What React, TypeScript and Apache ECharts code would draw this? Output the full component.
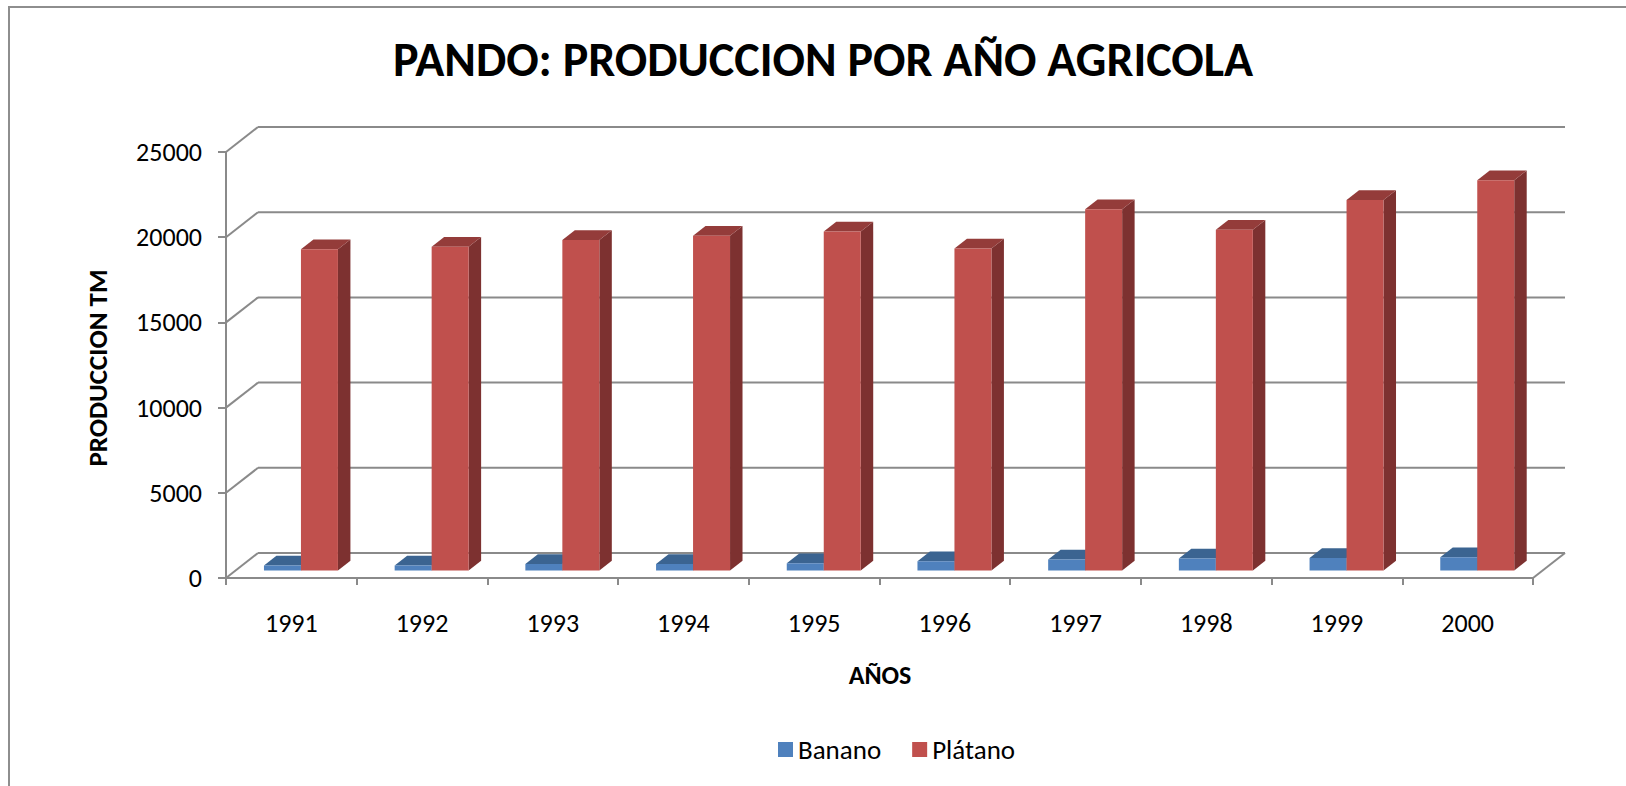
import React, { useEffect, useRef } from "react";
import * as echarts from "echarts";

const YEARS = ["1991", "1992", "1993", "1994", "1995", "1996", "1997", "1998", "1999", "2000"];
const BANANO = [300, 300, 380, 380, 420, 550, 650, 700, 730, 780];
const PLATANO = [18850, 19000, 19400, 19650, 19900, 18900, 21200, 20000, 21750, 22900];
const Y_TICKS = [0, 5000, 10000, 15000, 20000, 25000];
const SERIES_NAMES = ["Banano", "Plátano"];

const FONT = "Carlito, Lato, 'Open Sans', sans-serif";
const GRID_COLOR = "#8a8a8a";
// depth of the floor / walls (pixels)
const DEPTH_X = 32;
const DEPTH_Y = 25;
const FRONT_FRAC = 0.3; // bar front face depth
const BAR_DEPTH_FRAC = 0.39; // bar depth
const BAR_W_FRAC = 0.283;

const COLORS = {
  Banano: { front: "#4F81BD", top: "#3B6491", side: "#2E4E73" },
  Plátano: { front: "#C0504D", top: "#943C3A", side: "#7D3130" },
};

function makeBarRender(which: "Banano" | "Plátano") {
  const col = COLORS[which];
  return (params: any, api: any) => {
    const xi = api.value(0);
    const v = api.value(1);
    const pTop = api.coord([xi, v]);
    const pBot = api.coord([xi, 0]);
    const band = api.size([1, 0])[0];
    const w = band * BAR_W_FRAC;
    const ox = DEPTH_X * FRONT_FRAC;
    const oy = -DEPTH_Y * FRONT_FRAC;
    const bdx = DEPTH_X * BAR_DEPTH_FRAC;
    const bdy = DEPTH_Y * BAR_DEPTH_FRAC;
    const cx = pTop[0] + ox;
    const x0 = which === "Banano" ? cx - w : cx;
    const x1 = which === "Banano" ? cx : cx + w;
    const yT = pTop[1] + oy;
    const yB = pBot[1] + oy;
    return {
      type: "group",
      children: [
        {
          type: "polygon",
          shape: { points: [[x1, yT], [x1 + bdx, yT - bdy], [x1 + bdx, yB - bdy], [x1, yB]] },
          style: { fill: col.side },
        },
        {
          type: "polygon",
          shape: { points: [[x0, yT], [x1, yT], [x1 + bdx, yT - bdy], [x0 + bdx, yT - bdy]] },
          style: { fill: col.top },
        },
        {
          type: "rect",
          shape: { x: x0, y: yT, width: x1 - x0, height: yB - yT },
          style: { fill: col.front },
        },
      ],
    };
  };
}

function wallRender(params: any, api: any) {
  const cs = params.coordSys;
  const v = api.value(0);
  const y = api.coord([0, v])[1];
  const left = cs.x;
  const right = cs.x + cs.width;
  const children: any[] = [
    {
      type: "line",
      shape: { x1: left, y1: y, x2: left + DEPTH_X, y2: y - DEPTH_Y },
      style: { stroke: GRID_COLOR, lineWidth: 2 },
    },
    {
      type: "line",
      shape: { x1: left + DEPTH_X, y1: y - DEPTH_Y, x2: right + DEPTH_X, y2: y - DEPTH_Y },
      style: { stroke: GRID_COLOR, lineWidth: 2 },
    },
  ];
  if (v === 0) {
    children.push({
      type: "line",
      shape: { x1: right, y1: y, x2: right + DEPTH_X, y2: y - DEPTH_Y },
      style: { stroke: GRID_COLOR, lineWidth: 2 },
    });
  }
  return { type: "group", children };
}

export default function App() {
  const ref = useRef<HTMLDivElement>(null);
  useEffect(() => {
    if (!ref.current) return;
    const chart = echarts.init(ref.current, null, { renderer: "svg" });
    chart.setOption({
      animation: false,
      backgroundColor: "#ffffff",
      grid: { left: 226, right: 93, top: 152, bottom: 208, containLabel: false },
      legend: {
        data: SERIES_NAMES.map((n) => ({ name: n, icon: "rect" })),
        left: 773,
        top: 731,
        itemWidth: 15,
        itemHeight: 15,
        itemGap: 31,
        textStyle: { fontFamily: FONT, fontSize: 27, color: "#000" },
      },
      xAxis: {
        type: "category",
        data: YEARS,
        boundaryGap: true,
        axisLine: { show: true, lineStyle: { color: GRID_COLOR, width: 2 } },
        axisTick: { show: true, interval: 0, length: 7, lineStyle: { color: GRID_COLOR, width: 2 } },
        axisLabel: { interval: 0, margin: 32, fontFamily: FONT, fontSize: 26, color: "#000" },
        splitLine: { show: false },
      },
      yAxis: {
        type: "value",
        min: 0,
        max: 25000,
        interval: 5000,
        axisLine: { show: true, lineStyle: { color: GRID_COLOR, width: 2 } },
        axisTick: { show: true, length: 8, lineStyle: { color: GRID_COLOR, width: 2 } },
        axisLabel: {
          margin: 24,
          fontFamily: FONT,
          fontSize: 26,
          color: "#000",
          formatter: (v: number) => String(v),
        },
        splitLine: { show: false },
      },
      graphic: [
        {
          type: "rect",
          shape: { x: 9, y: 7, width: 1700, height: 900 },
          style: { fill: "none", stroke: "#8e8e8e", lineWidth: 2 },
          silent: true,
        },
        {
          type: "text",
          x: 823,
          y: 59,
          style: {
            text: "PANDO: PRODUCCION POR AÑO AGRICOLA",
            fontFamily: FONT,
            fontSize: 48,
            fontWeight: "bold",
            fill: "#000",
            textAlign: "center",
            textVerticalAlign: "middle",
          },
        },
        {
          type: "text",
          x: 97,
          y: 368,
          rotation: Math.PI / 2,
          style: {
            text: "PRODUCCION TM",
            fontFamily: FONT,
            fontSize: 27,
            fontWeight: "bold",
            fill: "#000",
            textAlign: "center",
            textVerticalAlign: "middle",
          },
        },
        {
          type: "text",
          x: 880,
          y: 675,
          style: {
            text: "AÑOS",
            fontFamily: FONT,
            fontSize: 26,
            fontWeight: "bold",
            fill: "#000",
            textAlign: "center",
            textVerticalAlign: "middle",
          },
        },
      ],
      series: [
        {
          type: "custom",
          name: "walls",
          silent: true,
          renderItem: wallRender,
          data: Y_TICKS.map((t) => [t]),
          encode: { y: 0 },
          z: 1,
        },
        {
          type: "custom",
          name: "Banano",
          itemStyle: { color: COLORS.Banano.front },
          renderItem: makeBarRender("Banano"),
          data: BANANO.map((v, i) => [i, v]),
          encode: { x: 0, y: 1 },
          z: 2,
        },
        {
          type: "custom",
          name: "Plátano",
          itemStyle: { color: COLORS["Plátano"].front },
          renderItem: makeBarRender("Plátano"),
          data: PLATANO.map((v, i) => [i, v]),
          encode: { x: 0, y: 1 },
          z: 3,
        },
      ],
    });
    return () => chart.dispose();
  }, []);
  return (
    <div
      ref={ref}
      style={{ position: "fixed", left: 0, top: 0, width: 1626, height: 786, background: "#fff" }}
    />
  );
}
